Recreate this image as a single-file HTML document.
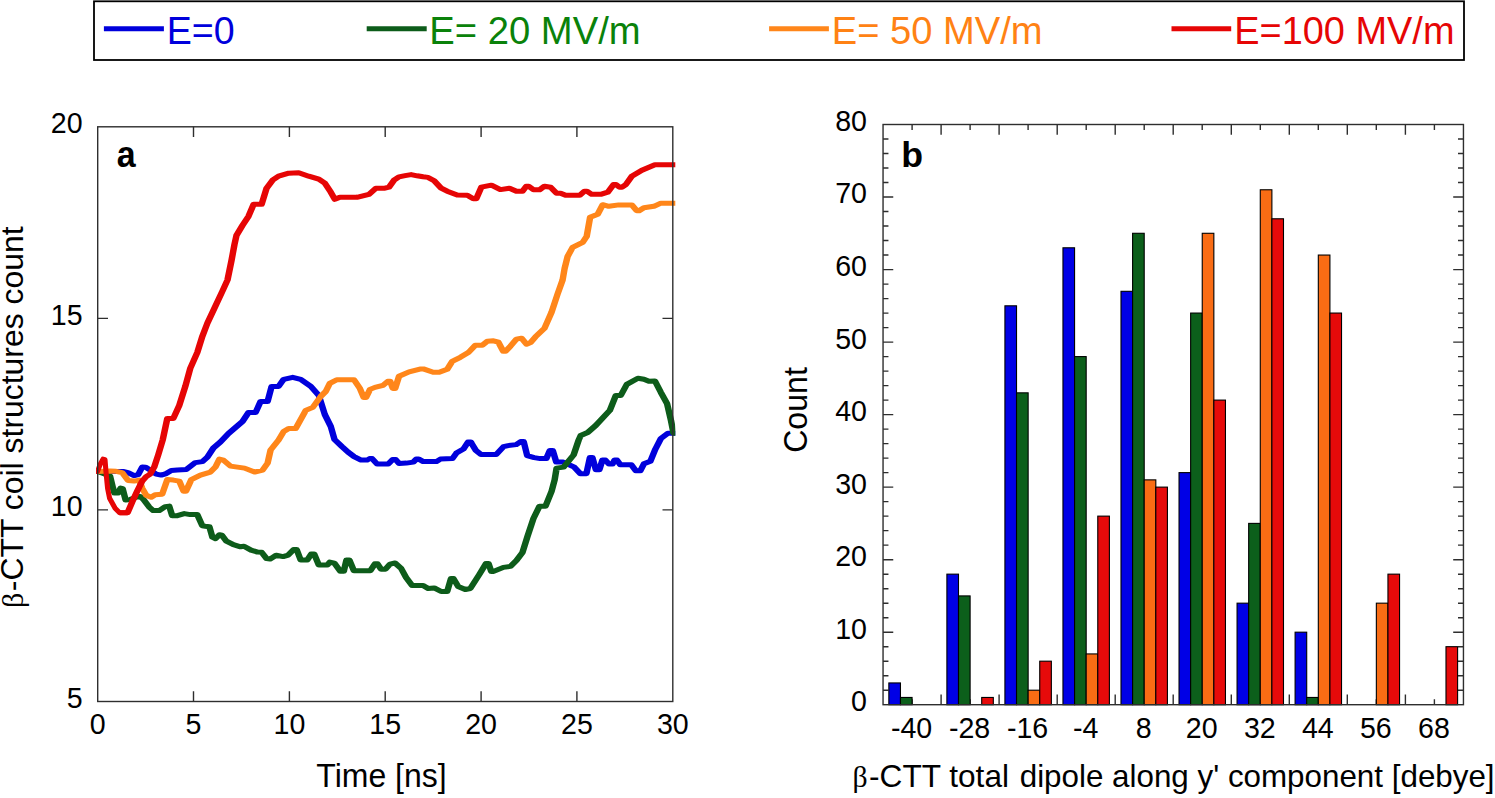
<!DOCTYPE html>
<html lang="en"><head><meta charset="utf-8"><title>β-CTT coil structures and dipole histogram</title>
<style>
html,body{margin:0;padding:0;background:#fff;}
body{width:1495px;height:798px;overflow:hidden;}
svg{display:block;}
svg text{font-family:"Liberation Sans",Arial,Helvetica,sans-serif;fill:#000;}
.tk{font-size:28.6px;}
.lg{font-size:38.1px;}
.al{font-size:31.8px;}
.gk{font-family:"Liberation Serif","DejaVu Serif",serif;font-size:94%;}
.pl{font-size:35px;font-weight:bold;}
.ax{stroke:#2e2e2e;stroke-width:1.4;fill:none;shape-rendering:auto;}
.ln{fill:none;stroke-width:5.0;stroke-linejoin:round;stroke-linecap:butt;}
.bar{stroke:#000;stroke-width:1.1;}
</style></head><body>
<svg width="1495" height="798" viewBox="0 0 1495 798">
<rect x="0" y="0" width="1495" height="798" fill="#ffffff"/>
<g id="legend">
<rect x="94" y="1.3" width="1370" height="58.7" fill="#fff" stroke="#000" stroke-width="1.8"/>
<line x1="103.9" y1="28.75" x2="163.9" y2="28.75" stroke="#0000dc" stroke-width="5.0"/>
<text class="lg" transform="translate(166.8 44.2) scale(1.0 1.04)" style="fill:#0000dc" textLength="67.9" lengthAdjust="spacingAndGlyphs">E=0</text>
<line x1="366.7" y1="28.75" x2="426.7" y2="28.75" stroke="#0d5c1a" stroke-width="5.0"/>
<text class="lg" transform="translate(429.3 44.2) scale(1.0 1.04)" style="fill:#0a820a" textLength="211.3" lengthAdjust="spacingAndGlyphs">E= 20 MV/m</text>
<line x1="769.1" y1="28.75" x2="828.9" y2="28.75" stroke="#ff861a" stroke-width="5.0"/>
<text class="lg" transform="translate(831.7 44.2) scale(1.0 1.04)" style="fill:#ff8214" textLength="210.9" lengthAdjust="spacingAndGlyphs">E= 50 MV/m</text>
<line x1="1171.5" y1="28.75" x2="1231.2" y2="28.75" stroke="#e60505" stroke-width="5.0"/>
<text class="lg" transform="translate(1234.2 44.2) scale(1.0 1.04)" style="fill:#e60505" textLength="220.3" lengthAdjust="spacingAndGlyphs">E=100 MV/m</text>
</g>
<g id="chartA">
<clipPath id="lc"><rect x="96" y="120" width="579.3" height="590"/></clipPath>
<g clip-path="url(#lc)">
<path class="ln" stroke="#0000dc" d="M72.31 471.5L75.00 471.5L94.69 471.5L98.54 472.6L103.15 475.6L106.31 474.6L109.38 467.1L112.08 467.3L115.54 470.1L120.15 474.1L124.00 475.1L127.85 473.6L131.77 470.6L136.38 470.1L143.31 469.6L150.23 462.6L155.69 461.6L159.54 457.1L164.15 448.0L169.54 442.0L175.77 433.5L186.54 421.5L191.15 412.5L196.62 412.5L200.46 401.4L205.85 401.4L208.92 386.4L214.31 386.4L218.23 379.3L225.15 377.3L231.31 379.3L239.08 386.4L245.23 395.4L249.85 414.5L254.46 426.5L257.31 439.5L263.08 446.6L267.77 452.1L272.38 456.6L277.77 460.1L282.38 460.1L284.31 458.6L286.23 458.6L290.15 464.1L298.62 464.1L302.08 459.6L304.38 459.6L307.08 463.6L312.54 463.1L317.92 462.1L320.23 459.1L322.15 459.1L325.62 461.6L335.69 461.6L338.77 459.1L348.00 458.6L351.08 453.1L356.46 449.1L360.00 442.1L362.31 442.1L363.08 444.1L366.15 450.6L370.00 454.6L381.62 454.6L387.38 446.6L390.85 445.6L397.08 444.6L400.54 441.6L402.85 441.6L405.54 455.6L410.92 457.6L415.54 458.6L420.23 458.6L422.92 450.6L425.23 450.6L427.92 462.1L433.31 462.1L441.77 467.2L446.46 473.7L451.08 473.7L453.77 457.6L455.69 457.6L458.38 469.7L461.08 469.7L463.38 460.1L465.69 460.1L468.46 464.1L471.15 464.1L472.69 460.1L474.62 460.1L477.15 464.8L485.62 464.8L489.08 470.8L492.54 470.8L495.31 463.8L500.31 461.3L504.15 449.1L508.38 438.5L513.77 433.2L518.08 433.2L521.54 433.2" transform="scale(1.3 1)"/>
<path class="ln" stroke="#0d5c1a" d="M72.31 471.5L75.00 471.5L78.46 473.1L84.62 476.0L86.92 488.1L88.08 493.1L90.85 493.1L92.77 488.1L94.31 488.6L96.62 500.1L100.08 499.6L106.08 496.6L107.92 496.6L110.08 499.1L114.77 507.1L117.85 510.6L122.46 510.6L127.08 506.6L130.15 506.1L132.46 515.7L136.38 515.7L141.77 513.6L146.38 514.6L151.77 514.6L155.62 525.7L157.92 526.2L161.08 526.7L163.38 537.2L165.69 538.7L168.77 534.7L170.69 535.2L174.15 541.2L179.54 544.7L185.00 546.8L187.69 546.3L193.08 550.1L198.15 552.1L201.23 552.3L205.08 558.6L207.77 559.1L212.38 555.3L217.77 556.6L221.69 555.1L225.92 549.6L228.23 549.6L231.31 560.1L236.31 560.1L239.38 554.1L241.69 554.1L245.23 565.1L251.77 565.1L253.69 562.1L257.15 563.1L261.77 571.2L264.46 571.2L266.46 560.1L268.77 560.1L272.23 570.7L284.92 570.7L288.38 563.8L290.38 563.8L293.08 569.2L296.54 569.2L300.00 564.1L303.85 563.0L308.54 568.4L312.38 577.5L317.00 585.5L325.46 585.5L329.31 588.5L334.00 587.9L339.38 591.5L344.00 591.5L346.92 578.5L348.77 578.5L352.46 586.5L357.92 589.5L361.77 588.5L368.69 574.5L373.92 563.4L375.77 563.4L377.85 571.4L379.69 571.4L387.23 567.4L392.62 566.4L397.23 560.4L401.92 552.4L405.77 536.3L410.38 518.3L415.00 506.2L419.62 506.2L424.31 491.2L426.62 480.1L428.15 468.1L433.54 467.1L441.23 455.0L445.15 440.0L446.69 435.5L452.08 432.5L458.23 425.5L469.08 410.4L473.69 395.4L477.54 395.4L482.15 384.4L490.69 378.3L495.31 379.3L499.15 381.3L503.77 380.9L508.38 392.4L513.08 403.4L516.15 420.5L518.08 433.2L521.54 433.2" transform="scale(1.3 1)"/>
<path class="ln" stroke="#ff861a" d="M72.31 471.5L75.00 471.5L84.69 471.1L89.31 471.3L93.92 472.6L98.54 480.6L103.15 481.1L107.08 480.1L109.38 488.2L112.46 495.2L116.31 497.2L119.38 494.7L124.77 494.2L128.69 479.6L133.31 480.1L137.92 481.1L141.23 491.2L143.08 491.2L147.15 479.6L154.15 475.1L161.85 472.1L165.69 467.1L168.77 459.1L171.85 460.1L177.31 466.1L188.08 468.1L195.85 472.1L202.00 470.1L205.85 463.1L208.15 450.0L214.31 440.0L218.23 431.5L222.08 428.5L227.46 428.5L235.15 410.4L240.62 407.4L246.77 396.4L250.62 391.4L253.69 383.4L259.08 379.7L272.23 379.7L276.85 388.4L279.77 397.4L281.62 397.4L284.62 389.4L288.46 387.4L294.62 385.4L298.31 381.3L300.15 381.3L302.15 388.4L304.00 388.4L306.92 376.3L314.69 371.9L323.77 368.9L325.62 368.9L333.23 372.3L337.85 372.3L344.00 369.3L347.85 361.3L354.08 357.3L360.23 352.6L365.62 345.2L371.00 345.2L374.85 341.2L379.54 340.8L383.38 342.2L387.08 351.2L388.92 351.2L392.62 346.2L397.23 339.2L401.15 338.2L405.00 344.2L408.08 342.6L411.92 336.8L418.85 328.2L424.31 312.1L428.92 294.0L432.77 280.0L434.31 268.5L436.62 256.5L440.46 247.4L448.23 242.4L451.31 236.4L453.92 217.3L459.77 214.3L463.62 204.7L468.31 206.3L476.00 204.9L486.00 204.9L489.77 210.7L491.62 210.7L495.31 207.7L503.00 206.3L508.38 203.2L518.08 203.2L521.54 203.2" transform="scale(1.3 1)"/>
<path class="ln" stroke="#e60505" d="M92.00 512.7L98.15 512.7L101.62 502.2L105.54 491.2L109.38 481.1L112.46 476.6L115.54 474.1L118.62 467.1L121.69 455.0L125.15 440.0L128.69 418.5L133.31 418.5L137.92 405.4L142.54 386.4L146.38 368.3L151.85 352.2L155.69 336.2L159.54 323.1L165.69 306.1L171.15 291.0L175.00 280.0L178.08 260.5L180.38 244.4L181.92 235.4L186.54 225.4L191.15 216.3L195.08 204.3L201.23 204.3L205.08 188.2L209.69 180.2L214.31 176.2L222.08 173.2L229.77 172.8L237.46 176.2L245.23 179.2L249.85 183.2L254.46 192.2L257.54 199.3L261.46 197.3L274.54 197.3L283.85 194.3L289.23 188.2L296.15 188.2L299.23 187.2L303.08 180.2L306.92 176.8L311.62 175.6L316.23 174.6L320.85 175.8L325.46 176.8L329.31 177.4L334.00 180.8L339.38 188.2L344.00 191.2L351.69 194.9L359.46 195.3L364.08 198.7L366.38 198.7L370.23 187.2L378.00 185.2L384.92 189.6L391.85 188.2L397.23 191.2L401.92 191.2L404.85 186.2L406.69 186.2L410.38 189.8L415.00 189.8L418.85 186.2L423.54 187.2L428.15 193.3L431.23 193.3L435.08 195.3L445.92 195.3L449.62 191.2L451.46 191.2L455.15 194.3L462.08 194.3L467.54 192.2L472.00 184.6L473.85 184.6L476.62 187.2L478.46 187.2L481.38 184.6L486.00 176.2L493.77 170.2L503.77 164.8L518.08 164.8L521.54 164.8" transform="scale(1.3 1)"/>
<path class="ln" stroke="#e60505" d="M92.16 471.5L95.59 471.5L98.53 463.6L100.98 459.1L102.94 459.6L104.02 473.1L105.49 488.2L107.45 498.2L112.84 508.2L117.25 512.7L125.10 512.7" transform="scale(1.02 1)"/>
</g>
<rect class="ax" x="97.7" y="126.8" width="575.1" height="574.7"/>
<path class="ax" d="M193.5 126.8v10.3M193.5 701.5v-10.3M289.4 126.8v10.3M289.4 701.5v-10.3M385.2 126.8v10.3M385.2 701.5v-10.3M481.1 126.8v10.3M481.1 701.5v-10.3M576.9 126.8v10.3M576.9 701.5v-10.3M97.7 509.9h10.3M672.8 509.9h-10.3M97.7 318.4h10.3M672.8 318.4h-10.3"/>
<text class="tk" transform="translate(97.7 734.3) scale(1.0 1.055)" text-anchor="middle">0</text>
<text class="tk" transform="translate(193.5 734.3) scale(1.0 1.055)" text-anchor="middle">5</text>
<text class="tk" transform="translate(289.4 734.3) scale(1.0 1.055)" text-anchor="middle">10</text>
<text class="tk" transform="translate(385.2 734.3) scale(1.0 1.055)" text-anchor="middle">15</text>
<text class="tk" transform="translate(481.1 734.3) scale(1.0 1.055)" text-anchor="middle">20</text>
<text class="tk" transform="translate(576.9 734.3) scale(1.0 1.055)" text-anchor="middle">25</text>
<text class="tk" transform="translate(672.8 734.3) scale(1.0 1.055)" text-anchor="middle">30</text>
<text class="tk" transform="translate(82.6 708.0) scale(1.0 1.055)" text-anchor="end">5</text>
<text class="tk" transform="translate(82.6 516.4) scale(1.0 1.055)" text-anchor="end">10</text>
<text class="tk" transform="translate(82.6 324.9) scale(1.0 1.055)" text-anchor="end">15</text>
<text class="tk" transform="translate(82.6 133.3) scale(1.0 1.055)" text-anchor="end">20</text>
<text class="pl" transform="translate(116.7 167.3) scale(0.97 1.04)">a</text>
<text class="al" transform="translate(316.3 786.9) scale(1.0 1.04)" textLength="130.4" lengthAdjust="spacingAndGlyphs">Time [ns]</text>
<text class="al" transform="translate(23.3 608.0) rotate(-90) scale(1.0 0.96)" textLength="381.6" lengthAdjust="spacingAndGlyphs"><tspan class="gk">β</tspan><tspan dx="1.6">-CTT coil structures count</tspan></text>
</g>
<g id="chartB">
<path class="ax" d="M941.1 124.5v10.2M941.1 704.7v-10.2M999.1 124.5v10.2M999.1 704.7v-10.2M1057.2 124.5v10.2M1057.2 704.7v-10.2M1115.2 124.5v10.2M1115.2 704.7v-10.2M1173.2 124.5v10.2M1173.2 704.7v-10.2M1231.3 124.5v10.2M1231.3 704.7v-10.2M1289.3 124.5v10.2M1289.3 704.7v-10.2M1347.3 124.5v10.2M1347.3 704.7v-10.2M1405.4 124.5v10.2M1405.4 704.7v-10.2M912.1 124.5v5.4M912.1 704.7v-5.4M970.1 124.5v5.4M970.1 704.7v-5.4M1028.1 124.5v5.4M1028.1 704.7v-5.4M1086.2 124.5v5.4M1086.2 704.7v-5.4M1144.2 124.5v5.4M1144.2 704.7v-5.4M1202.2 124.5v5.4M1202.2 704.7v-5.4M1260.3 124.5v5.4M1260.3 704.7v-5.4M1318.3 124.5v5.4M1318.3 704.7v-5.4M1376.3 124.5v5.4M1376.3 704.7v-5.4M1434.4 124.5v5.4M1434.4 704.7v-5.4M883.05 690.2h5.4M1463.4 690.2h-5.4M883.05 675.7h5.4M1463.4 675.7h-5.4M883.05 661.2h5.4M1463.4 661.2h-5.4M883.05 646.7h5.4M1463.4 646.7h-5.4M883.05 632.2h10.2M1463.4 632.2h-10.2M883.05 617.7h5.4M1463.4 617.7h-5.4M883.05 603.2h5.4M1463.4 603.2h-5.4M883.05 588.7h5.4M1463.4 588.7h-5.4M883.05 574.2h5.4M1463.4 574.2h-5.4M883.05 559.7h10.2M1463.4 559.7h-10.2M883.05 545.1h5.4M1463.4 545.1h-5.4M883.05 530.6h5.4M1463.4 530.6h-5.4M883.05 516.1h5.4M1463.4 516.1h-5.4M883.05 501.6h5.4M1463.4 501.6h-5.4M883.05 487.1h10.2M1463.4 487.1h-10.2M883.05 472.6h5.4M1463.4 472.6h-5.4M883.05 458.1h5.4M1463.4 458.1h-5.4M883.05 443.6h5.4M1463.4 443.6h-5.4M883.05 429.1h5.4M1463.4 429.1h-5.4M883.05 414.6h10.2M1463.4 414.6h-10.2M883.05 400.1h5.4M1463.4 400.1h-5.4M883.05 385.6h5.4M1463.4 385.6h-5.4M883.05 371.1h5.4M1463.4 371.1h-5.4M883.05 356.6h5.4M1463.4 356.6h-5.4M883.05 342.1h10.2M1463.4 342.1h-10.2M883.05 327.6h5.4M1463.4 327.6h-5.4M883.05 313.1h5.4M1463.4 313.1h-5.4M883.05 298.6h5.4M1463.4 298.6h-5.4M883.05 284.1h5.4M1463.4 284.1h-5.4M883.05 269.6h10.2M1463.4 269.6h-10.2M883.05 255.0h5.4M1463.4 255.0h-5.4M883.05 240.5h5.4M1463.4 240.5h-5.4M883.05 226.0h5.4M1463.4 226.0h-5.4M883.05 211.5h5.4M1463.4 211.5h-5.4M883.05 197.0h10.2M1463.4 197.0h-10.2M883.05 182.5h5.4M1463.4 182.5h-5.4M883.05 168.0h5.4M1463.4 168.0h-5.4M883.05 153.5h5.4M1463.4 153.5h-5.4M883.05 139.0h5.4M1463.4 139.0h-5.4"/>
<rect class="bar" x="888.85" y="682.94" width="11.61" height="21.76" fill="#0000e6"/>
<rect class="bar" x="900.46" y="697.45" width="11.61" height="7.25" fill="#0c5f1b"/>
<rect class="bar" x="946.89" y="574.15" width="11.61" height="130.55" fill="#0000e6"/>
<rect class="bar" x="958.50" y="595.91" width="11.61" height="108.79" fill="#0c5f1b"/>
<rect class="bar" x="981.71" y="697.45" width="11.61" height="7.25" fill="#e60a0a"/>
<rect class="bar" x="1004.92" y="305.81" width="11.61" height="398.89" fill="#0000e6"/>
<rect class="bar" x="1016.53" y="392.84" width="11.61" height="311.86" fill="#0c5f1b"/>
<rect class="bar" x="1028.14" y="690.20" width="11.61" height="14.50" fill="#f96c14"/>
<rect class="bar" x="1039.74" y="661.19" width="11.61" height="43.51" fill="#e60a0a"/>
<rect class="bar" x="1062.96" y="247.79" width="11.61" height="456.91" fill="#0000e6"/>
<rect class="bar" x="1074.57" y="356.58" width="11.61" height="348.12" fill="#0c5f1b"/>
<rect class="bar" x="1086.17" y="653.93" width="11.61" height="50.77" fill="#f96c14"/>
<rect class="bar" x="1097.78" y="516.13" width="11.61" height="188.57" fill="#e60a0a"/>
<rect class="bar" x="1120.99" y="291.31" width="11.61" height="413.39" fill="#0000e6"/>
<rect class="bar" x="1132.60" y="233.29" width="11.61" height="471.41" fill="#0c5f1b"/>
<rect class="bar" x="1144.21" y="479.87" width="11.61" height="224.83" fill="#f96c14"/>
<rect class="bar" x="1155.81" y="487.12" width="11.61" height="217.58" fill="#e60a0a"/>
<rect class="bar" x="1179.03" y="472.62" width="11.61" height="232.08" fill="#0000e6"/>
<rect class="bar" x="1190.64" y="313.06" width="11.61" height="391.64" fill="#0c5f1b"/>
<rect class="bar" x="1202.24" y="233.29" width="11.61" height="471.41" fill="#f96c14"/>
<rect class="bar" x="1213.85" y="400.10" width="11.61" height="304.61" fill="#e60a0a"/>
<rect class="bar" x="1237.06" y="603.17" width="11.61" height="101.53" fill="#0000e6"/>
<rect class="bar" x="1248.67" y="523.39" width="11.61" height="181.31" fill="#0c5f1b"/>
<rect class="bar" x="1260.28" y="189.77" width="11.61" height="514.93" fill="#f96c14"/>
<rect class="bar" x="1271.88" y="218.78" width="11.61" height="485.92" fill="#e60a0a"/>
<rect class="bar" x="1295.10" y="632.18" width="11.61" height="72.52" fill="#0000e6"/>
<rect class="bar" x="1306.71" y="697.45" width="11.61" height="7.25" fill="#0c5f1b"/>
<rect class="bar" x="1318.31" y="255.05" width="11.61" height="449.66" fill="#f96c14"/>
<rect class="bar" x="1329.92" y="313.06" width="11.61" height="391.64" fill="#e60a0a"/>
<rect class="bar" x="1376.35" y="603.17" width="11.61" height="101.53" fill="#f96c14"/>
<rect class="bar" x="1387.95" y="574.15" width="11.61" height="130.55" fill="#e60a0a"/>
<rect class="bar" x="1445.99" y="646.68" width="11.61" height="58.02" fill="#e60a0a"/>
<rect class="ax" x="883.05" y="124.5" width="580.4" height="580.2"/>
<text class="tk" transform="translate(911.6 737.6) scale(1.0 1.055)" text-anchor="middle">-40</text>
<text class="tk" transform="translate(969.6 737.6) scale(1.0 1.055)" text-anchor="middle">-28</text>
<text class="tk" transform="translate(1027.6 737.6) scale(1.0 1.055)" text-anchor="middle">-16</text>
<text class="tk" transform="translate(1085.7 737.6) scale(1.0 1.055)" text-anchor="middle">-4</text>
<text class="tk" transform="translate(1143.7 737.6) scale(1.0 1.055)" text-anchor="middle">8</text>
<text class="tk" transform="translate(1201.7 737.6) scale(1.0 1.055)" text-anchor="middle">20</text>
<text class="tk" transform="translate(1259.8 737.6) scale(1.0 1.055)" text-anchor="middle">32</text>
<text class="tk" transform="translate(1317.8 737.6) scale(1.0 1.055)" text-anchor="middle">44</text>
<text class="tk" transform="translate(1375.8 737.6) scale(1.0 1.055)" text-anchor="middle">56</text>
<text class="tk" transform="translate(1433.9 737.6) scale(1.0 1.055)" text-anchor="middle">68</text>
<text class="tk" transform="translate(867.0 711.1) scale(1.0 1.055)" text-anchor="end">0</text>
<text class="tk" transform="translate(867.0 638.6) scale(1.0 1.055)" text-anchor="end">10</text>
<text class="tk" transform="translate(867.0 566.1) scale(1.0 1.055)" text-anchor="end">20</text>
<text class="tk" transform="translate(867.0 493.5) scale(1.0 1.055)" text-anchor="end">30</text>
<text class="tk" transform="translate(867.0 421.0) scale(1.0 1.055)" text-anchor="end">40</text>
<text class="tk" transform="translate(867.0 348.5) scale(1.0 1.055)" text-anchor="end">50</text>
<text class="tk" transform="translate(867.0 275.9) scale(1.0 1.055)" text-anchor="end">60</text>
<text class="tk" transform="translate(867.0 203.4) scale(1.0 1.055)" text-anchor="end">70</text>
<text class="tk" transform="translate(867.0 130.9) scale(1.0 1.055)" text-anchor="end">80</text>
<text class="pl" transform="translate(901.2 166.8) scale(1.02 1.0)">b</text>
<text class="al" transform="translate(806.7 452.8) rotate(-90) scale(1.0 1.04)" textLength="85.6" lengthAdjust="spacingAndGlyphs">Count</text>
<text class="al" transform="translate(852.4 787.4)"><tspan textLength="156.6" lengthAdjust="spacingAndGlyphs"><tspan class="gk">β</tspan><tspan dx="1.6">-CTT total</tspan></tspan><tspan x="158.5"> </tspan><tspan x="167.3" textLength="474.9" lengthAdjust="spacingAndGlyphs">dipole along y' component [debye]</tspan></text>
</g>
</svg></body></html>
